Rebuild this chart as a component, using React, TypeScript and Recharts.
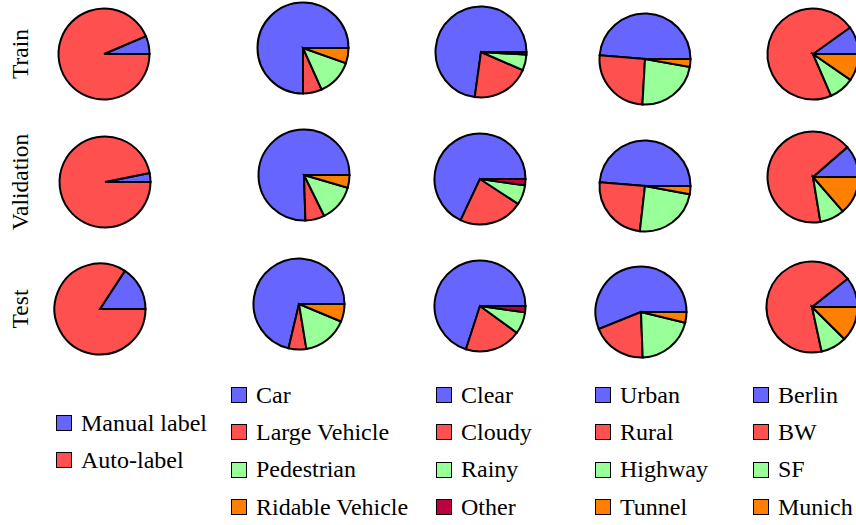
import { PieChart, Pie, Cell } from 'recharts';

const splits = ['Train', 'Validation', 'Test'];

const labelTypes = ['Manual label', 'Auto-label'];
const labelShares = [
  [6.4, 93.6],
  [3.2, 96.8],
  [15.8, 84.2],
];

const objectClasses = ['Car', 'Large Vehicle', 'Pedestrian', 'Ridable Vehicle'];
const objectShares = [
  [75.0, 6.7, 12.9, 5.4],
  [75.5, 6.8, 13.2, 4.5],
  [71.3, 6.3, 16.1, 6.3],
];

const weatherTypes = ['Clear', 'Cloudy', 'Rainy', 'Other'];
const weatherShares = [
  [72.8, 20.7, 5.6, 0.9],
  [68.0, 22.8, 7.0, 2.2],
  [70.0, 20.0, 7.8, 2.2],
];

const roadTypes = ['Urban', 'Rural', 'Highway', 'Tunnel'];
const roadShares = [
  [48.7, 25.4, 23.1, 2.8],
  [48.7, 24.5, 23.9, 2.9],
  [56.1, 19.5, 20.6, 3.8],
];

const cities = ['Berlin', 'BW', 'SF', 'Munich'];
const cityShares = [
  [9.9, 71.6, 8.9, 9.6],
  [11.4, 66.2, 8.8, 13.6],
  [10.7, 67.7, 9.2, 12.4],
];

const BLUE = '#6666FF';
const RED = '#FF5050';
const GREEN = '#99FF99';
const ORANGE = '#FF8000';
const MAROON = '#BF003F';

const groups = [
  { names: labelTypes, shares: labelShares, colors: [BLUE, RED] },
  { names: objectClasses, shares: objectShares, colors: [BLUE, RED, GREEN, ORANGE] },
  { names: weatherTypes, shares: weatherShares, colors: [BLUE, RED, GREEN, MAROON] },
  { names: roadTypes, shares: roadShares, colors: [BLUE, RED, GREEN, ORANGE] },
  { names: cities, shares: cityShares, colors: [BLUE, RED, GREEN, ORANGE] },
];

// pie centres per row / column
const centers = [
  [[104, 54], [303, 48], [481, 52], [645, 59], [813, 54]],
  [[105, 182], [304, 175], [480, 179], [645, 186], [813, 177]],
  [[100, 309], [299, 304], [480, 306], [641, 312], [812, 307]],
];
const RADIUS = 45.5;

const rowLabelY = [54, 182, 309];

const legendX = [56, 231, 436, 595, 753];
const legendRows = [
  [423, 460],
  [395, 432, 469.5, 507],
  [395, 432, 469.5, 507],
  [395, 432, 469.5, 507],
  [395, 432, 469.5, 507],
];

const FONT = "'Liberation Serif', 'Times New Roman', serif";

export default function App() {
  return (
    <div
      style={{
        position: 'absolute',
        left: 0,
        top: 0,
        width: 856,
        height: 525,
        overflow: 'hidden',
        background: '#fff',
        fontFamily: FONT,
      }}
    >
      <PieChart width={856} height={525} margin={{ top: 0, right: 0, bottom: 0, left: 0 }}>
        {splits.map((split, r) =>
          groups.map((g, c) => {
            const data = g.names.map((name, i) => ({ name, value: g.shares[r][i] }));
            return (
              <Pie
                key={`${split}-${c}`}
                data={data}
                dataKey="value"
                nameKey="name"
                cx={centers[r][c][0]}
                cy={centers[r][c][1]}
                outerRadius={RADIUS}
                innerRadius={0}
                startAngle={0}
                endAngle={360}
                stroke="#000"
                strokeWidth={2}
                isAnimationActive={false}
              >
                {data.map((d, i) => (
                  <Cell key={d.name} fill={g.colors[i]} stroke="#000" strokeWidth={2} />
                ))}
              </Pie>
            );
          })
        )}
      </PieChart>

      {splits.map((split, r) => (
        <div
          key={split}
          style={{
            position: 'absolute',
            left: 20,
            top: rowLabelY[r],
            transform: 'translate(-50%, -50%) rotate(-90deg)',
            fontSize: 23.5,
            lineHeight: '24px',
            whiteSpace: 'nowrap',
            color: '#000',
          }}
        >
          {split}
        </div>
      ))}

      {groups.map((g, c) =>
        g.names.map((name, i) => (
          <div
            key={`${c}-${name}`}
            style={{
              position: 'absolute',
              left: legendX[c],
              top: legendRows[c][i] - 14,
              height: 28,
              display: 'flex',
              alignItems: 'center',
              whiteSpace: 'nowrap',
              fontSize: 24,
              color: '#000',
            }}
          >
            <span
              style={{
                display: 'inline-block',
                width: 14,
                height: 14,
                background: g.colors[i],
                border: '1.5px solid #000',
                marginRight: 9,
              }}
            />
            <span>{name}</span>
          </div>
        ))
      )}
    </div>
  );
}
